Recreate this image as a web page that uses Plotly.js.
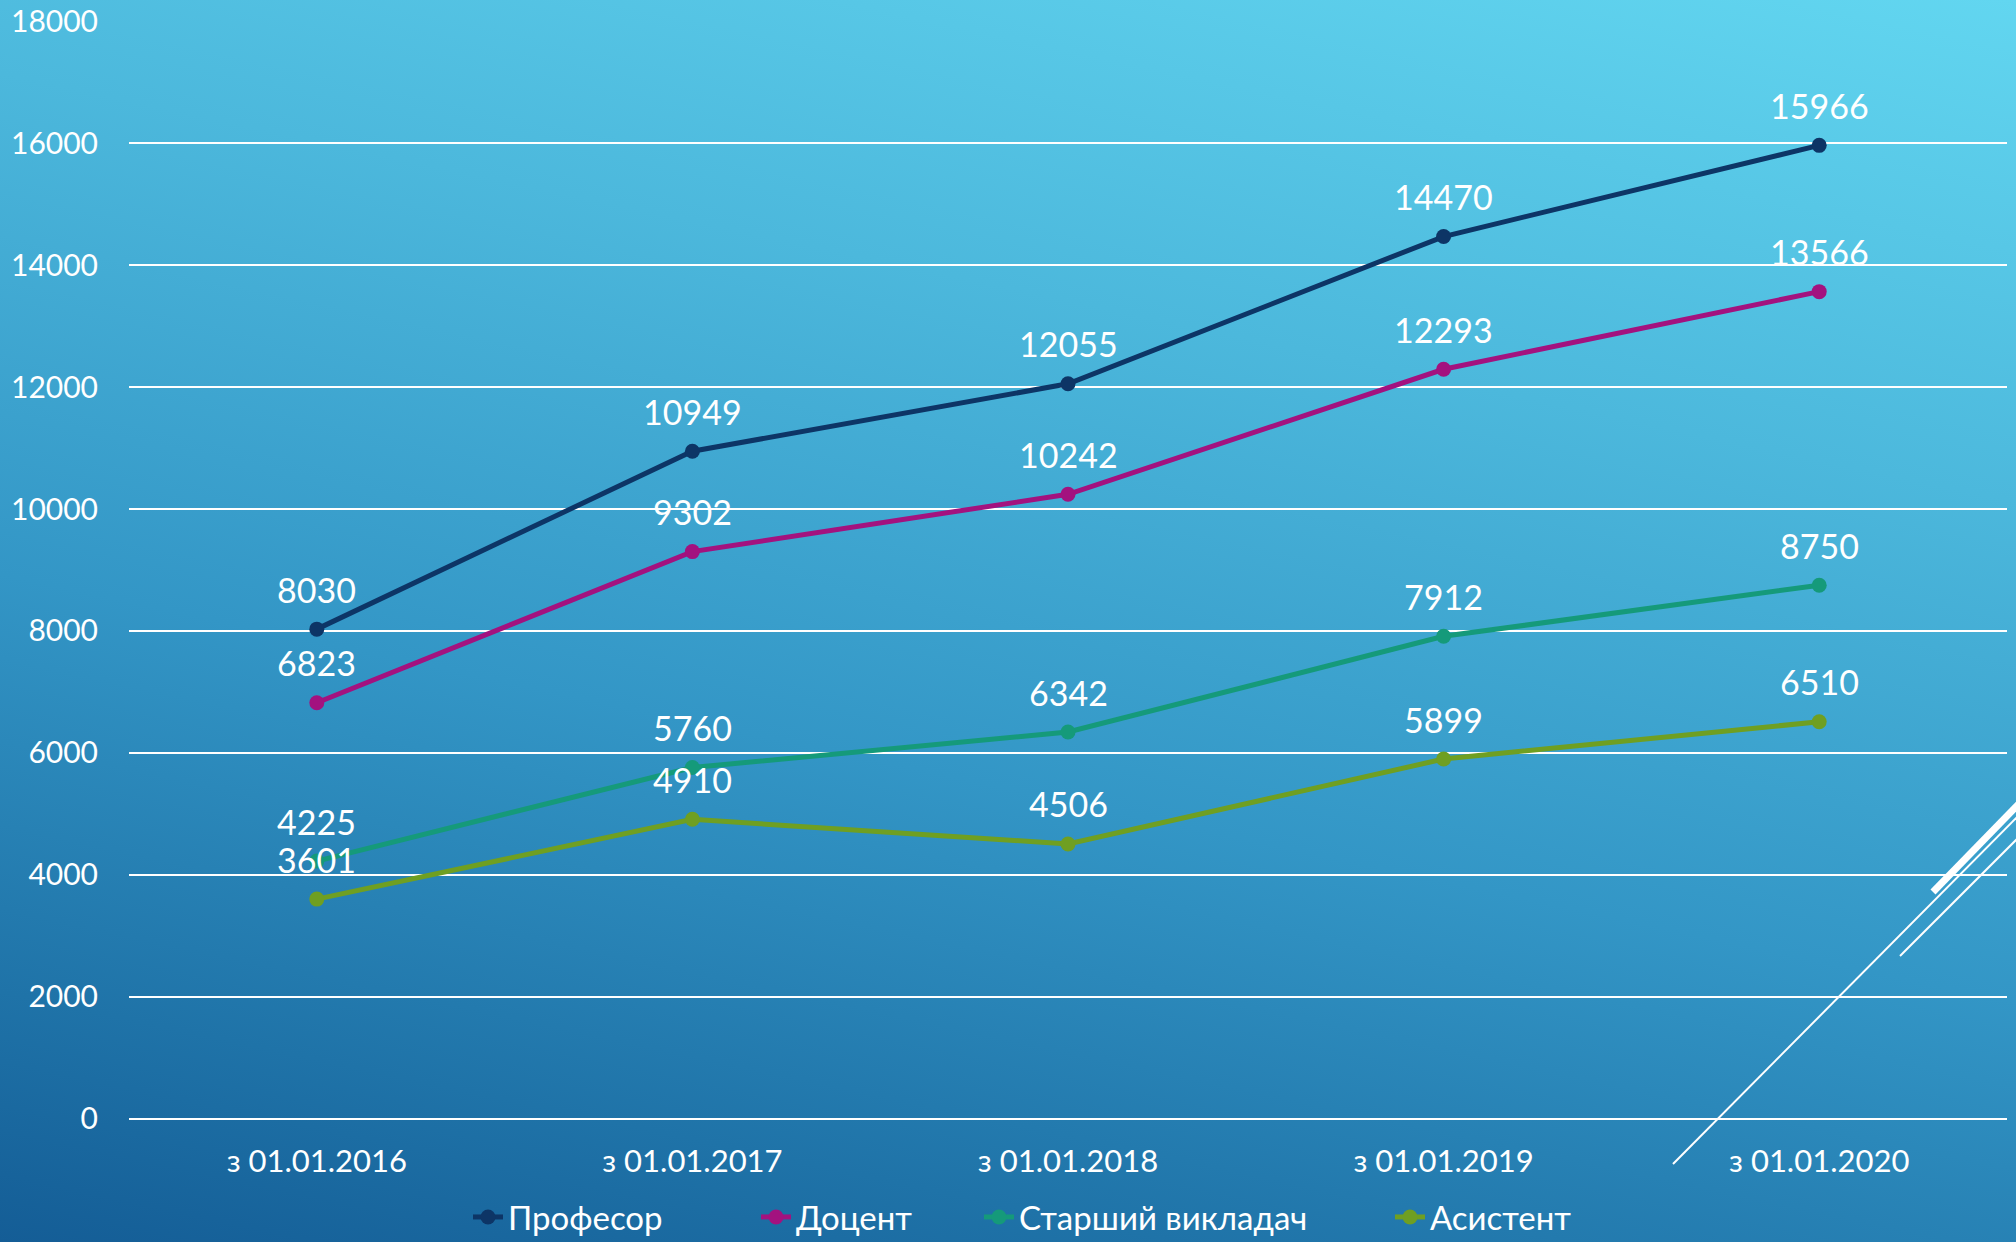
<!DOCTYPE html>
<html>
<head>
<meta charset="utf-8">
<script src="https://cdn.plot.ly/plotly-3.0.1.min.js"></script>
<style>
html, body { margin:0; padding:0; width:2016px; height:1242px; overflow:hidden; }
body { background: linear-gradient(192deg, #62d6f0 0%, #4cb8dc 30%, #3396c6 60%, #1f73a8 85%, #145d96 100%); }
#chart { width:2016px; height:1242px; }
</style>
</head>
<body>
<div id="chart"></div>
<script>
const categories = ["з 01.01.2016", "з 01.01.2017", "з 01.01.2018", "з 01.01.2019", "з 01.01.2020"];
const seriesNames = ["Професор", "Доцент", "Старший викладач", "Асистент"];
const profesor = [8030, 10949, 12055, 14470, 15966];
const docent = [6823, 9302, 10242, 12293, 13566];
const starshyi = [4225, 5760, 6342, 7912, 8750];
const asystent = [3601, 4910, 4506, 5899, 6510];
const colors = ["#0d3566", "#a3127f", "#159a7a", "#6f9f22"];
const allValues = [profesor, docent, starshyi, asystent];

const font = "'Century Gothic', 'Lato', 'Open Sans', sans-serif";

const W = 1878, H = 1098, L = 129, T = 21;
function px(x) { return (x - L) / W; }
function py(y) { return (T + H - y) / H; }

const legendIds = ['legend', 'legend2', 'legend3', 'legend4'];
const legendTextStart = [514, 802, 1025, 1436];

const traces = allValues.map((vals, i) => ({
  type: 'scatter',
  mode: 'lines+markers',
  name: seriesNames[i],
  legend: legendIds[i],
  x: categories,
  y: vals,
  line: { color: colors[i], width: 5 },
  marker: { color: colors[i], size: 15 },
  cliponaxis: false,
  hoverinfo: 'x+y+name'
}));

const annotations = [];
allValues.forEach((vals, i) => {
  vals.forEach((v, j) => {
    annotations.push({
      x: categories[j], y: v, xref: 'x', yref: 'y',
      text: String(v), showarrow: false, yshift: 40,
      font: { family: font, size: 34, color: '#ffffff' }
    });
  });
});

const shapes = [
  { type: 'line', xref: 'paper', yref: 'paper', x0: px(1933), y0: py(892), x1: px(2040), y1: py(782),
    line: { color: '#ffffff', width: 7 } },
  { type: 'line', xref: 'paper', yref: 'paper', x0: px(1673), y0: py(1164), x1: px(2040), y1: py(794),
    line: { color: '#ffffff', width: 2 } },
  { type: 'line', xref: 'paper', yref: 'paper', x0: px(1900), y0: py(956), x1: px(2040), y1: py(816),
    line: { color: '#ffffff', width: 2 } }
];

const layout = {
  width: 2016, height: 1242,
  margin: { l: L, r: 2016 - L - W, t: T, b: 1242 - T - H, autoexpand: false },
  paper_bgcolor: 'rgba(0,0,0,0)',
  plot_bgcolor: 'rgba(0,0,0,0)',
  font: { family: font, color: '#ffffff', size: 28 },
  showlegend: true,
  xaxis: {
    type: 'category', range: [-0.5, 4.5], showgrid: false, zeroline: false, showline: false,
    ticks: 'outside', ticklen: 15, tickcolor: 'rgba(0,0,0,0)',
    tickfont: { family: font, size: 31, color: '#ffffff' }, fixedrange: true
  },
  yaxis: {
    range: [-6, 18006], dtick: 2000, tick0: 0, tickformat: 'd', showgrid: true, gridcolor: '#ffffff', gridwidth: 2,
    zeroline: true, zerolinecolor: '#ffffff', zerolinewidth: 2, showline: false,
    ticks: 'outside', ticklen: 24, tickcolor: 'rgba(0,0,0,0)',
    tickfont: { family: font, size: 30, color: '#ffffff' }, fixedrange: true
  },
  shapes: shapes,
  annotations: annotations
};

legendIds.forEach((id, i) => {
  layout[id] = {
    orientation: 'h', x: px(legendTextStart[i] - 46), xanchor: 'left', y: py(1217), yanchor: 'middle',
    font: { family: font, size: 33, color: '#ffffff' },
    bgcolor: 'rgba(0,0,0,0)'
  };
});

Plotly.newPlot('chart', traces, layout, { displayModeBar: false, staticPlot: true });
</script>
</body>
</html>
